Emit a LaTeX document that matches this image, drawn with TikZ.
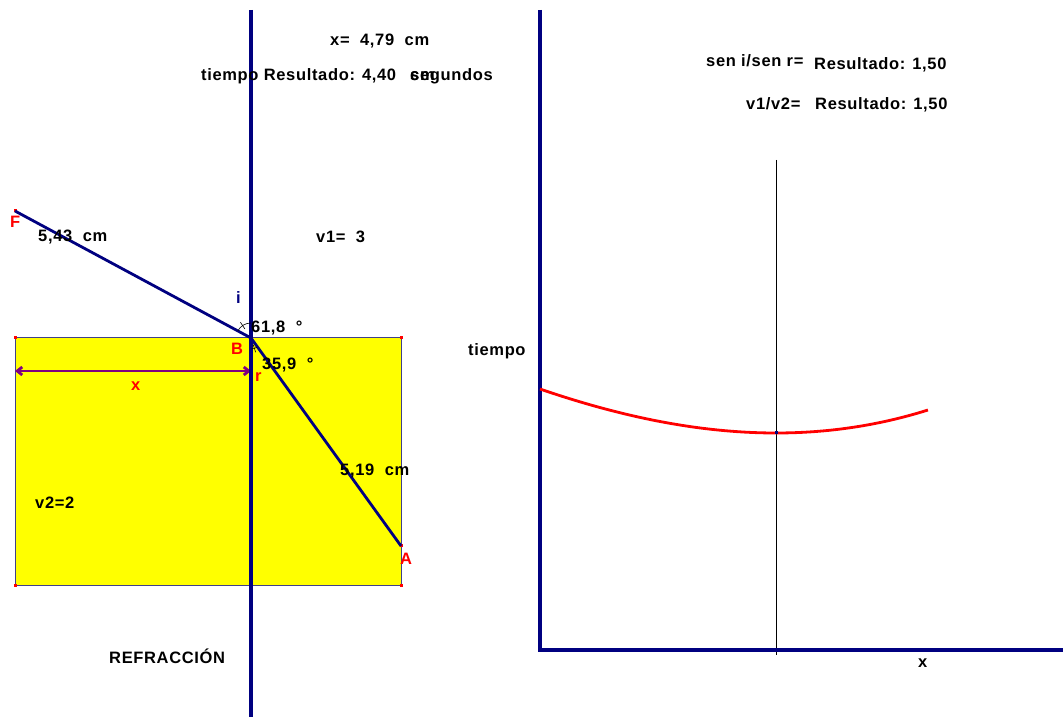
\documentclass[tikz,border=0pt]{standalone}
\usepackage{fontspec}
\setmainfont[LetterSpace=4]{Liberation Sans}
\usepackage{tikz}
\usetikzlibrary{arrows.meta}
\definecolor{Navy}{HTML}{000080}
\definecolor{Rojo}{HTML}{FF0000}
\definecolor{Amarillo}{HTML}{FFFF00}
\definecolor{Morado}{HTML}{800080}
\definecolor{Borde}{HTML}{404088}

\begin{document}
\begin{tikzpicture}[x=1pt,y=1pt,
    txt/.style={anchor=base west,inner sep=0pt,font=\bfseries\fontsize{16.5}{18}\selectfont},
    rtxt/.style={txt,text=Rojo},
    eje/.style={draw=Navy,line width=3.5pt,line join=miter},
    rayo/.style={draw=Navy,line width=2.8pt},
    pto/.style={fill=Rojo,inner sep=0pt,minimum size=3pt},
    ang/.style={draw=black,line width=0.6pt}]
  \useasboundingbox[fill=white] (0,0) rectangle (1063,717);
  % medio 2
  \filldraw[fill=Amarillo,draw=Borde,line width=1pt] (15,131) rectangle (401,379);
  \coordinate (F) at (15,506);
  \coordinate (B) at (251,379);
  \coordinate (A) at (401,171);
  \coordinate (n1) at (251,707);
  \coordinate (n2) at (251,0);
  \coordinate (x0) at (15,346);
  \coordinate (x1) at (251,346);
  \foreach \p [count=\i] in {(15,131),(401,131),(15,379),(401,379),(401,171),(15,506)}
    \node[pto] (q\i) at \p {};
  \draw[Morado,line width=2.8pt,{Straight Barb[length=5pt,width=8pt]}-{Straight Barb[length=5pt,width=8pt]}] (x0)--(x1);
  \draw[eje] (n1)--(n2);
  \draw[rayo] (F)--(B)--(A);
  % angulos
  \draw[ang] (B) ++(90:15) arc[start angle=90,end angle=151.8,radius=15];
  \draw[ang] (B) ++(124:11) -- ++(124:8);
  \draw[ang] (B) ++(270:11) arc[start angle=270,end angle=305.8,radius=11];
  \draw[ang] (B) ++(288:7) -- ++(288:8);
  % textos izquierda
  \node[txt] (xval) at (330,671) {x=\ \ 4,79\ \ cm};
  \node[txt] (tval) at (201,636) {tiempo Resultado: 4,40};
  \node[txt] (tseg) at (410,636) {segundos};
  \node[txt] (tcm) at (410,636) {cm};
  \node[rtxt] (lF) at (10,489) {F};
  \node[txt] (dFB) at (38,475) {5,43\ \ cm};
  \node[txt] (v1) at (316,474) {v1=\ \ 3};
  \node[txt,text=Navy] (li) at (236,413) {i};
  \node[txt] (ai) at (251,384) {61,8\ \ °};
  \node[rtxt] (lB) at (231,362) {B};
  \node[txt] (ar) at (262,347) {35,9\ \ °};
  \node[rtxt] (lr) at (255,335) {r};
  \node[rtxt] (lx) at (131,326) {x};
  \node[txt] (dBA) at (340,241) {5,19\ \ cm};
  \node[txt] (v2) at (35,208) {v2=2};
  \node[rtxt] (lA) at (400,152) {A};
  \node[txt] (tit) at (109,53) {REFRACCIÓN};
  % grafica
  \coordinate (O) at (540,67);
  \coordinate (Ey) at (540,707);
  \coordinate (Ex) at (1063,67);
  \coordinate (m1) at (776,557);
  \coordinate (m2) at (776,62);
  \draw[black,line width=0.8pt] (m1)--(m2);
  \draw[eje] (Ey)--(O)--(Ex);
  \draw[Rojo,line width=2.8pt] plot[domain=-2.36:1.52,samples=60,smooth] ({776+100*\x},{284+9.15*\x*\x+0.53*\x*\x*\x});
  \node[fill=Navy,inner sep=0pt,minimum size=3pt] (P) at (776,284) {};
  \node[txt] (seni) at (706,650) {sen i/sen r=};
  \node[txt] (res1) at (814,647) {Resultado: 1,50};
  \node[txt] (v12) at (746,607) {v1/v2=};
  \node[txt] (res2) at (815,607) {Resultado: 1,50};
  \node[txt] (ltiempo) at (468,361) {tiempo};
  \node[txt] (lxeje) at (918,49) {x};
\end{tikzpicture}
\end{document}
